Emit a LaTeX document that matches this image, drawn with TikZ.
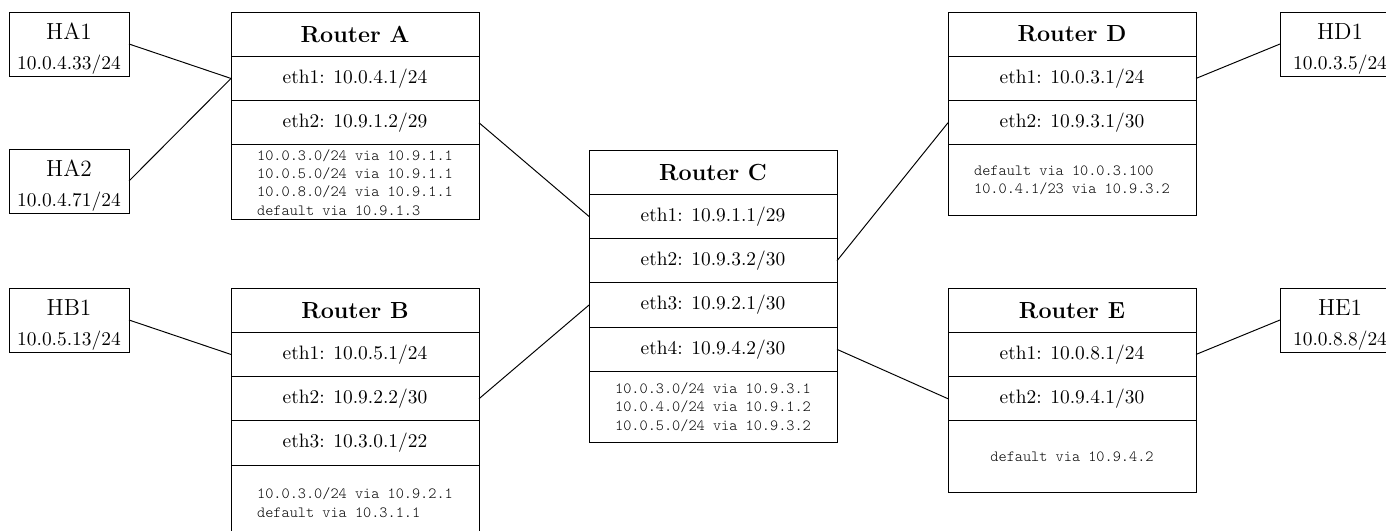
\documentclass[tikz,border=0pt]{standalone}
\newlength{\unitpx}
\setlength{\unitpx}{0.515pt}
\tikzset{
  box/.style={draw, line width=0.5pt, outer sep=0pt, inner sep=0pt, anchor=north west},
  host/.style={box, minimum width=120\unitpx, minimum height=64\unitpx, align=center},
  cell/.style={box, minimum width=248\unitpx, minimum height=44.3\unitpx},
  head/.style={cell, font=\large\bfseries},
  routes/.style={box, minimum width=248\unitpx, align=left,
    font=\ttfamily\fontseries{l}\footnotesize},
  link/.style={line width=0.5pt},
}
\newcommand{\hostlabel}[2]{{\large\rule{0pt}{13.4pt}#1}\\[3.2pt]#2}
\begin{document}
\begin{tikzpicture}[x=0.515pt, y=-0.515pt]
\clip (0,0) rectangle (1386,531);

% hosts
\node[host] (HA1) at (9,12)   {\hostlabel{HA1}{10.0.4.33/24}};
\node[host] (HA2) at (9,149)  {\hostlabel{HA2}{10.0.4.71/24}};
\node[host] (HB1) at (9,288)  {\hostlabel{HB1}{10.0.5.13/24}};
\node[host] (HD1) at (1280,12)  {\hostlabel{HD1}{10.0.3.5/24}};
\node[host] (HE1) at (1280,288) {\hostlabel{HE1}{10.0.8.8/24}};

% Router A
\node[head] (A-h) at (231,12)  {Router A};
\node[cell] (A-1) at (A-h.south west) {eth1: 10.0.4.1/24};
\node[cell] (A-2) at (A-1.south west) {eth2: 10.9.1.2/29};
\node[routes, minimum height=75\unitpx] (A-r) at (A-2.south west)
  {10.0.3.0/24 via 10.9.1.1\\10.0.5.0/24 via 10.9.1.1\\10.0.8.0/24 via 10.9.1.1\\default via 10.9.1.3};

% Router B
\node[head] (B-h) at (231,288) {Router B};
\node[cell] (B-1) at (B-h.south west) {eth1: 10.0.5.1/24};
\node[cell] (B-2) at (B-1.south west) {eth2: 10.9.2.2/30};
\node[cell] (B-3) at (B-2.south west) {eth3: 10.3.0.1/22};
\node[routes, minimum height=75\unitpx] (B-r) at (B-3.south west)
  {10.0.3.0/24 via 10.9.2.1\\default via 10.3.1.1};

% Router C
\node[head] (C-h) at (589,150) {Router C};
\node[cell] (C-1) at (C-h.south west) {eth1: 10.9.1.1/29};
\node[cell] (C-2) at (C-1.south west) {eth2: 10.9.3.2/30};
\node[cell] (C-3) at (C-2.south west) {eth3: 10.9.2.1/30};
\node[cell] (C-4) at (C-3.south west) {eth4: 10.9.4.2/30};
\node[routes, minimum height=71\unitpx] (C-r) at (C-4.south west)
  {10.0.3.0/24 via 10.9.3.1\\10.0.4.0/24 via 10.9.1.2\\10.0.5.0/24 via 10.9.3.2};

% Router D
\node[head] (D-h) at (948,12)  {Router D};
\node[cell] (D-1) at (D-h.south west) {eth1: 10.0.3.1/24};
\node[cell] (D-2) at (D-1.south west) {eth2: 10.9.3.1/30};
\node[routes, minimum height=71\unitpx] (D-r) at (D-2.south west)
  {default via 10.0.3.100\\10.0.4.1/23 via 10.9.3.2};

% Router E
\node[head] (E-h) at (948,288) {Router E};
\node[cell] (E-1) at (E-h.south west) {eth1: 10.0.8.1/24};
\node[cell] (E-2) at (E-1.south west) {eth2: 10.9.4.1/30};
\node[routes, minimum height=72\unitpx] (E-r) at (E-2.south west)
  {default via 10.9.4.2};

% links
\draw[link] (HA1.east) -- (A-1.west);
\draw[link] (HA2.east) -- (A-1.west);
\draw[link] (HB1.east) -- (B-1.west);
\draw[link] (A-2.east) -- (C-1.west);
\draw[link] (B-2.east) -- (C-3.west);
\draw[link] (C-2.east) -- (D-2.west);
\draw[link] (C-4.east) -- (E-2.west);
\draw[link] (D-1.east) -- (HD1.west);
\draw[link] (E-1.east) -- (HE1.west);
\end{tikzpicture}
\end{document}
